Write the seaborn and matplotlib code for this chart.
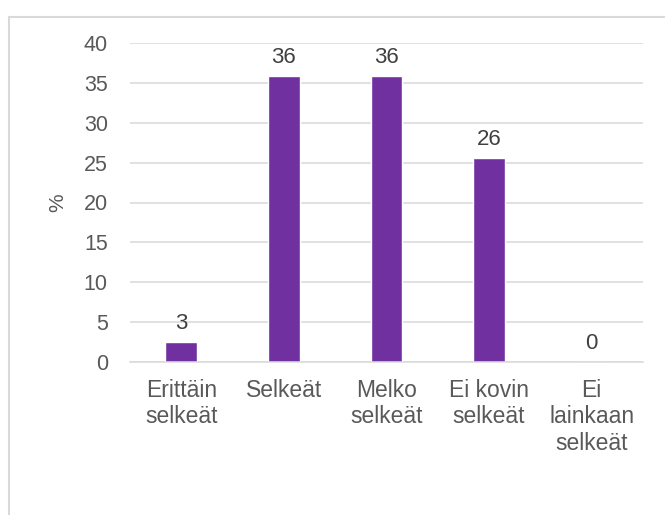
import matplotlib
matplotlib.use("Agg")
import matplotlib.pyplot as plt
from matplotlib.patches import Rectangle
import seaborn as sns
import pandas as pd

# data
categories = ["Erittäin\nselkeät", "Selkeät", "Melko\nselkeät",
              "Ei kovin\nselkeät", "Ei\nlainkaan\nselkeät"]
values = [2.45, 35.85, 35.85, 25.6, 0.0]
labels = ["3", "36", "36", "26", "0"]
yticks = [0, 5, 10, 15, 20, 25, 30, 35, 40]

df = pd.DataFrame({"cat": categories, "pct": values})

sns.set_theme(style="white")
plt.rcParams['font.family'] = ['Liberation Sans', 'DejaVu Sans']

fig = plt.figure(figsize=(6.65, 5.15), dpi=100)
ax = fig.add_axes([130/665, (515-362)/515, (643-130)/665, (362-43)/515])

sns.barplot(data=df, x="cat", y="pct", color="#7030A0", saturation=1,
            width=0.31, ax=ax)

ax.set_ylim(0, 40)
ax.set_yticks(yticks)
ax.set_xlim(-0.5, 4.5)
ax.yaxis.grid(True, color="#D9D9D9", linewidth=1.1)
ax.set_axisbelow(True)
for s in ["top", "right", "left"]:
    ax.spines[s].set_visible(False)
ax.spines["bottom"].set_color("#D9D9D9")
ax.spines["bottom"].set_linewidth(1.1)

ax.tick_params(axis="y", length=0, pad=16, labelsize=15.5, labelcolor="#595959")
ax.tick_params(axis="x", length=0, pad=12, labelsize=16.5, labelcolor="#595959")
for t in ax.get_xticklabels():
    t.set_linespacing(1.2)

ax.set_xlabel("")
ax.set_ylabel("%", fontsize=15, color="#595959", labelpad=12)

ax.bar_label(ax.containers[0], labels=labels, padding=6, fontsize=16, color="#404040")

# chart area frame
fig.patches.append(Rectangle((9/665, -0.05), 1.0, (515-17)/515 + 0.05,
                             transform=fig.transFigure, fill=False,
                             edgecolor="#D9D9D9", linewidth=1.5))

fig.savefig("out.png", dpi=100)
